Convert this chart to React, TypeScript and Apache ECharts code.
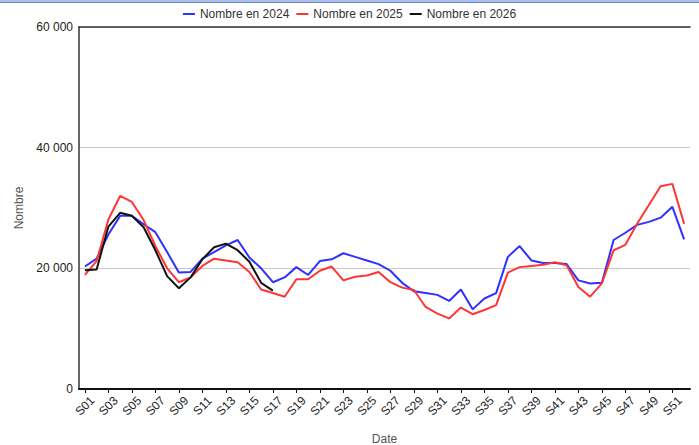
import React, { useEffect, useRef } from "react";
import * as echarts from "echarts";

const weeks: string[] = Array.from({ length: 52 }, (_, i) => "S" + String(i + 1).padStart(2, "0"));

const values2024: number[] = [
  20300, 21600, 25600, 28700, 28700, 27300, 26000, 22700, 19300, 19400,
  21600, 22700, 23800, 24700, 21800, 20000, 17700, 18500, 20200, 18900,
  21200, 21500, 22500, 21900, 21300, 20700, 19600, 17600, 16200, 15900,
  15600, 14600, 16500, 13200, 15000, 15900, 21900, 23700, 21300, 20900,
  20900, 20700, 18000, 17500, 17600, 24700, 25900, 27200, 27700, 28400,
  30200, 24800,
];

const values2025: number[] = [
  18900, 21200, 28100, 32000, 31000, 28000, 23700, 20000, 17700, 18500,
  20400, 21600, 21300, 21000, 19400, 16500, 15900, 15300, 18200, 18200,
  19600, 20300, 18000, 18600, 18800, 19400, 17700, 16800, 16400, 13600,
  12500, 11700, 13500, 12400, 13100, 13900, 19300, 20200, 20400, 20600,
  21000, 20500, 16900, 15300, 17500, 23000, 23900, 27400, 30500, 33600,
  34000, 27400,
];

const values2026: number[] = [
  19700, 19800, 26900, 29200, 28700, 26800, 23000, 18700, 16700, 18500,
  21500, 23500, 24100, 23000, 21100, 17600, 16300,
];

const yTicks: number[] = [0, 20000, 40000, 60000];

const seriesNames = ["Nombre en 2024", "Nombre en 2025", "Nombre en 2026"];
const seriesColors = ["#3030ff", "#ff3535", "#111111"];

const fmt = (v: number) => (v === 0 ? "0" : String(v).replace(/\B(?=(\d{3})+(?!\d))/g, " "));

export default function App() {
  const ref = useRef<HTMLDivElement>(null);
  useEffect(() => {
    if (!ref.current) return;
    const chart = echarts.init(ref.current, undefined, { renderer: "svg" });
    const font = "Liberation Sans, Arial, sans-serif";
    const data = [values2024, values2025, values2026];
    chart.setOption({
      animation: false,
      backgroundColor: "#ffffff",
      textStyle: { fontFamily: font },
      legend: {
        top: 3,
        left: "center",
        icon: "rect",
        itemWidth: 12,
        itemHeight: 2,
        itemGap: 7,
        textStyle: { fontSize: 12, color: "#333", fontFamily: font },
        data: seriesNames,
      },
      grid: { left: 79, right: 9, top: 27, bottom: 56, containLabel: false, outerBoundsMode: "none" },
      xAxis: [
        {
          type: "category",
          data: weeks,
          boundaryGap: true,
          name: "Date",
          nameLocation: "middle",
          nameGap: 44,
          nameTextStyle: { fontSize: 12, color: "#555", fontFamily: font },
          axisLine: { show: true, onZero: false, lineStyle: { color: "#111", width: 2 } },
          axisTick: { show: true, alignWithLabel: true, interval: 1, length: 4, lineStyle: { color: "#111" } },
          axisLabel: {
            interval: 1,
            rotate: 45,
            align: "center",
            verticalAlign: "middle",
            fontSize: 12,
            color: "#222",
            margin: 17,
            fontFamily: font,
          },
          splitLine: { show: false },
        },
        {
          type: "category",
          data: weeks,
          position: "top",
          show: true,
          axisLine: { show: true, onZero: false, lineStyle: { color: "#333", width: 1.5 } },
          axisTick: { show: false },
          axisLabel: { show: false },
          splitLine: { show: false },
        },
      ],
      yAxis: {
        type: "value",
        min: yTicks[0],
        max: yTicks[yTicks.length - 1],
        interval: yTicks[1] - yTicks[0],
        name: "Nombre",
        nameLocation: "middle",
        nameGap: 53,
        nameRotate: 90,
        nameTextStyle: { fontSize: 12, color: "#555", fontFamily: font },
        axisLine: { show: true, lineStyle: { color: "#333", width: 1.5 } },
        axisTick: { show: false },
        axisLabel: { fontSize: 12, color: "#222", margin: 6, formatter: fmt, fontFamily: font },
        splitLine: { show: true, lineStyle: { color: "#c8c8c8", width: 1 } },
      },
      series: seriesNames.map((name, i) => ({
        name,
        type: "line",
        xAxisIndex: 0,
        data: data[i],
        showSymbol: false,
        symbol: "none",
        lineStyle: { color: seriesColors[i], width: 2 },
        itemStyle: { color: seriesColors[i] },
      })),
    });
    return () => chart.dispose();
  }, []);

  return (
    <div style={{ position: "absolute", left: 0, top: 0, width: 699, height: 445, background: "#fff" }}>
      <div ref={ref} style={{ position: "absolute", left: 0, top: 0, width: 699, height: 445 }} />
      <div style={{ position: "absolute", left: 0, top: 0, width: 699, height: 2, background: "#a9bde9" }} />
      <div style={{ position: "absolute", left: 0, top: 2, width: 699, height: 1, background: "#6f88cc" }} />
    </div>
  );
}
